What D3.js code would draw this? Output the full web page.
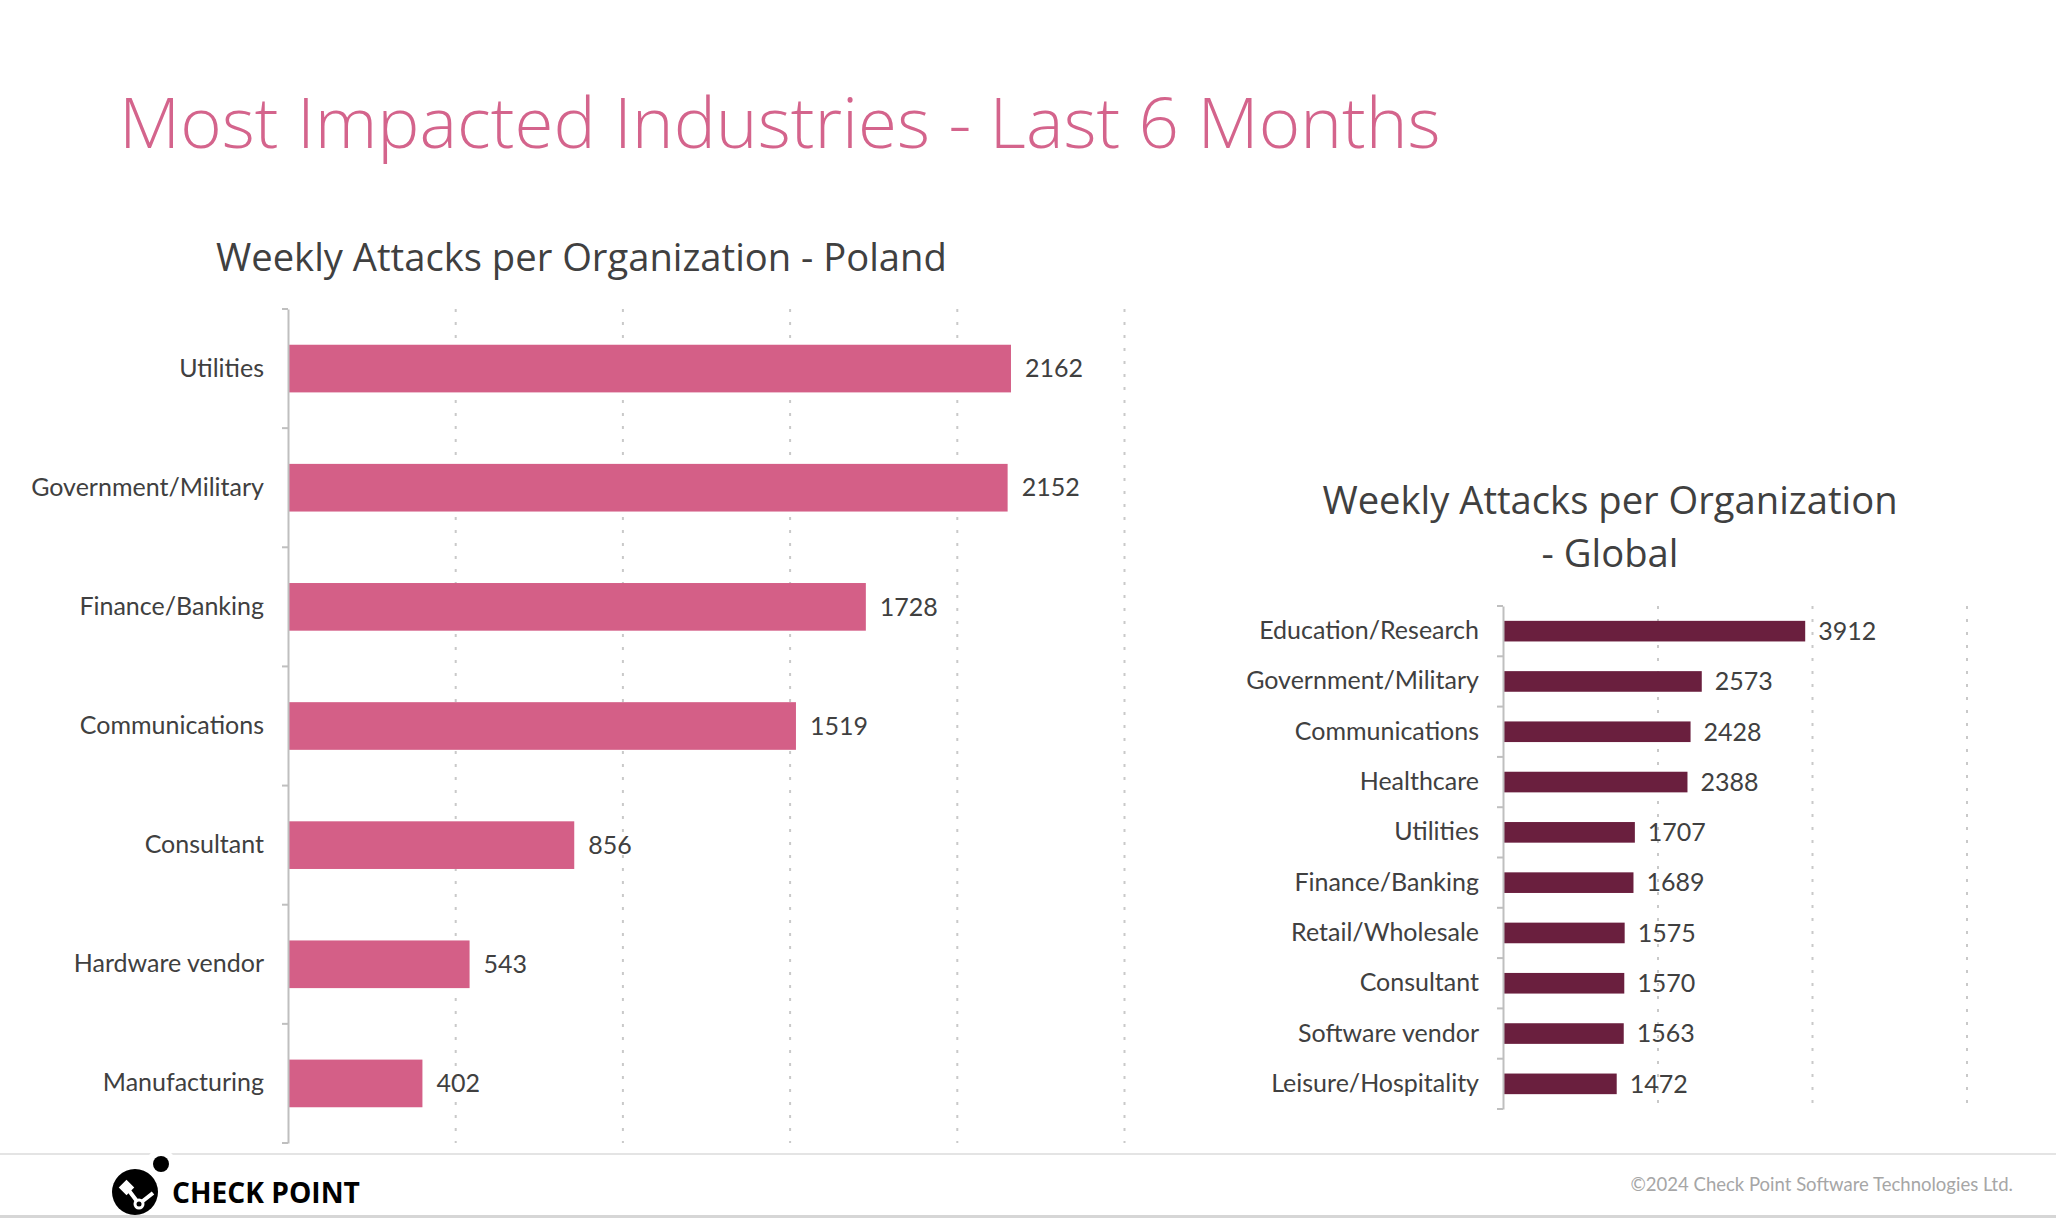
<!DOCTYPE html>
<html>
<head>
<meta charset="utf-8">
<script src="https://cdn.jsdelivr.net/npm/d3@7"></script>
<style>
  html, body { margin: 0; padding: 0; background: #ffffff; }
  svg { display: block; }
</style>
</head>
<body>
<svg id="chart" width="2056" height="1218"></svg>
<script>
// ---------- data ----------
const pageTitle = "Most Impacted Industries - Last 6 Months";
const polandTitle = "Weekly Attacks per Organization - Poland";
const globalTitleLines = ["Weekly Attacks per Organization", "- Global"];

const polandCategories = ["Utilities", "Government/Military", "Finance/Banking", "Communications", "Consultant", "Hardware vendor", "Manufacturing"];
const polandValues = [2162, 2152, 1728, 1519, 856, 543, 402];
const polandTicks = [500, 1000, 1500, 2000, 2500];

const globalCategories = ["Education/Research", "Government/Military", "Communications", "Healthcare", "Utilities", "Finance/Banking", "Retail/Wholesale", "Consultant", "Software vendor", "Leisure/Hospitality"];
const globalValues = [3912, 2573, 2428, 2388, 1707, 1689, 1575, 1570, 1563, 1472];
const globalTicks = [2000, 4000, 6000];

const brandText = "CHECK POINT";
const copyrightText = "©2024 Check Point Software Technologies Ltd.";

// ---------- setup ----------
const svg = d3.select("#chart");
const TEXT = "#404040";
const AXIS = "#bfbfbf";
const GRID = "#c9c9c9";
const PINK = "#d45f87";
const MAROON = "#6a1f3e";
const LABEL_FONT = "Lato, 'Open Sans', sans-serif";
const TITLE_FONT = "'Open Sans', 'Noto Sans', sans-serif";

function fitSize(text, family, weight, target) {
  const t = svg.append("text").attr("font-family", family).attr("font-weight", weight)
    .attr("font-size", 100).text(text);
  const w = t.node().getComputedTextLength();
  t.remove();
  return 100 * target / w;
}

// faint footer elements
svg.append("line").attr("x1", 0).attr("x2", 2056).attr("y1", 1154).attr("y2", 1154)
  .attr("stroke", "#e4e4e4").attr("stroke-width", 2);
svg.append("rect").attr("x", 0).attr("y", 1215).attr("width", 2056).attr("height", 3).attr("fill", "#d6d6d6");

// page title
const titleSize = fitSize(pageTitle, TITLE_FONT, 300, 1322);
svg.append("text").attr("x", 119).attr("y", 148)
  .attr("font-family", TITLE_FONT).attr("font-weight", 300).attr("font-size", titleSize)
  .attr("fill", "#d4648c").text(pageTitle);

// subtitles
const subSize = fitSize(polandTitle, TITLE_FONT, 400, 731);
svg.append("text").attr("x", 216).attr("y", 271)
  .attr("font-family", TITLE_FONT).attr("font-size", subSize).attr("fill", TEXT).text(polandTitle);
svg.append("g").selectAll("text").data(globalTitleLines).join("text")
  .attr("x", 1610).attr("y", (d, i) => 514 + i * 53)
  .attr("text-anchor", "middle")
  .attr("font-family", TITLE_FONT).attr("font-size", subSize).attr("fill", TEXT).text(d => d);

const labelSize = fitSize("Government/Military", LABEL_FONT, 400, 233);

function drawChart(cfg) {
  const { cats, vals, ticks, x, y, color, labelPad, valuePad } = cfg;
  const g = svg.append("g");
  const [y0, y1] = y.range();
  const x0 = x.range()[0];

  // gridlines
  g.append("g").attr("transform", `translate(0,${y0})`)
    .call(d3.axisBottom(x).tickValues(ticks).tickSize(y1 - y0).tickFormat(""))
    .call(a => a.select(".domain").remove())
    .call(a => a.selectAll("line").attr("stroke", GRID).attr("stroke-width", 2).attr("stroke-dasharray", "3,10"));

  // bars
  const data = cats.map((c, i) => ({ c, v: vals[i] }));
  g.append("g").selectAll("rect").data(data).join("rect")
    .attr("x", x(0)).attr("y", d => y(d.c))
    .attr("width", d => x(d.v) - x(0)).attr("height", y.bandwidth())
    .attr("fill", color);

  // value labels
  g.append("g").selectAll("text").data(data).join("text")
    .attr("x", d => x(d.v) + valuePad).attr("y", d => y(d.c) + y.bandwidth() / 2)
    .attr("dy", "0.35em")
    .attr("font-family", LABEL_FONT).attr("font-size", labelSize).attr("fill", TEXT)
    .text(d => d.v);

  // category axis
  const ax = g.append("g").attr("transform", `translate(${x0},0)`)
    .call(d3.axisLeft(y).tickSize(0).tickPadding(labelPad));
  ax.select(".domain").attr("stroke", AXIS).attr("stroke-width", 2);
  ax.selectAll("text").attr("font-family", LABEL_FONT).attr("font-size", labelSize).attr("fill", TEXT);
  // boundary ticks
  const bounds = d3.range(cats.length + 1).map(i => y0 + i * y.step());
  g.append("g").selectAll("line").data(bounds).join("line")
    .attr("x1", x0 - 6).attr("x2", x0).attr("y1", d => d).attr("y2", d => d)
    .attr("stroke", AXIS).attr("stroke-width", 2);
}

drawChart({
  cats: polandCategories, vals: polandValues, ticks: polandTicks,
  x: d3.scaleLinear().domain([0, 2500]).range([288, 1124]),
  y: d3.scaleBand().domain(polandCategories).range([309, 1143]).paddingInner(0.6).paddingOuter(0.3),
  color: PINK, labelPad: 24, valuePad: 14
});

drawChart({
  cats: globalCategories, vals: globalValues, ticks: globalTicks,
  x: d3.scaleLinear().domain([0, 6000]).range([1503, 1966.5]),
  y: d3.scaleBand().domain(globalCategories).range([606, 1109]).paddingInner(0.59).paddingOuter(0.295),
  color: MAROON, labelPad: 24, valuePad: 13
});

// logo
const logo = svg.append("g");
logo.append("circle").attr("cx", 135).attr("cy", 1192).attr("r", 23).attr("fill", "#000");
logo.append("circle").attr("cx", 161).attr("cy", 1164).attr("r", 15).attr("fill", "#fff");
logo.append("circle").attr("cx", 161).attr("cy", 1164).attr("r", 8).attr("fill", "#000");
logo.append("path").attr("d", "M127,1188 L139,1204 L153,1193").attr("stroke", "#fff").attr("stroke-width", 4).attr("fill", "none");
logo.append("rect").attr("x", 121).attr("y", 1182).attr("width", 11).attr("height", 11)
  .attr("transform", "rotate(45 126.5 1187.5)").attr("fill", "#fff");
logo.append("circle").attr("cx", 139).attr("cy", 1204).attr("r", 5.5).attr("fill", "#fff");
logo.append("circle").attr("cx", 139).attr("cy", 1204).attr("r", 2.5).attr("fill", "#000");
const brandSize = fitSize(brandText, TITLE_FONT, 700, 188);
svg.append("text").attr("x", 172).attr("y", 1203)
  .attr("font-family", TITLE_FONT).attr("font-weight", 700).attr("font-size", brandSize)
  .attr("fill", "#000").text(brandText);

// copyright
const copySize = fitSize(copyrightText, LABEL_FONT, 400, 383);
svg.append("text").attr("x", 2013).attr("y", 1191).attr("text-anchor", "end")
  .attr("font-family", LABEL_FONT).attr("font-size", copySize).attr("fill", "#a6a6a6").text(copyrightText);
</script>
</body>
</html>
